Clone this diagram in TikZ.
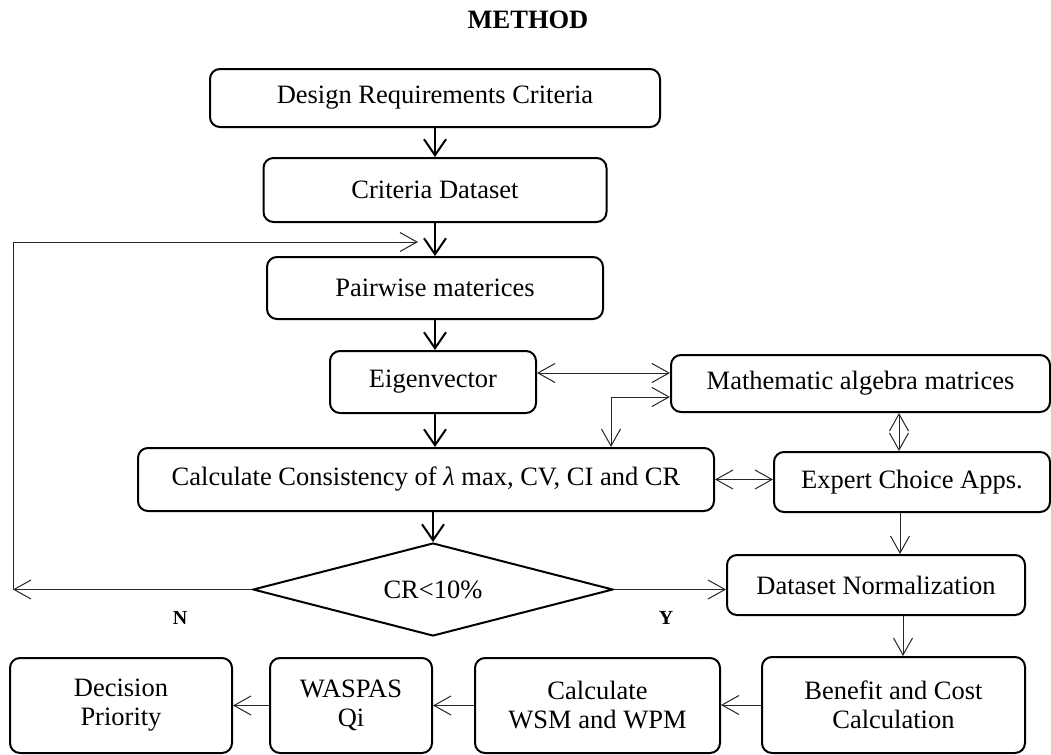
\documentclass[tikz,border=0pt]{standalone}
\usepackage{fontspec}
\setmainfont{Liberation Serif}
\usepackage{tikz}
\usetikzlibrary{shapes.geometric,arrows.meta,positioning}

\begin{document}
\begin{tikzpicture}[x=0.5pt,y=-0.5pt,
    font=\fontsize{13.25}{14.5}\selectfont,
    stepbox/.style={rectangle, rounded corners=5pt, draw, line width=1pt, align=center, inner sep=2pt},
    thkarrow/.style={line width=1pt, -{Straight Barb[length=8pt,width=11pt]}},
    thnarrow/.style={line width=0.5pt, black!85, -{Straight Barb[length=8.5pt,width=9.5pt]}},
    thnboth/.style={line width=0.5pt, black!85, {Straight Barb[length=8.5pt,width=9.5pt]}-{Straight Barb[length=8.5pt,width=9.5pt]}}]
      \useasboundingbox (0,0) rectangle (1051,755);
      \node (title) at (528,20) {\textbf{METHOD}};

      % AHP column
      \node[stepbox, minimum width=225pt, minimum height=29pt] (dr) at (435,98) {Design Requirements Criteria};
      \node[stepbox, minimum width=171.5pt, minimum height=32pt] (cd) at (435,190) {Criteria Dataset};
      \node[stepbox, minimum width=168pt, minimum height=31pt] (pw) at (435,288) {Pairwise materices};
      \node[stepbox, minimum width=103pt, minimum height=31pt] (ev) at (433,382) {Eigenvector};
      \node[stepbox, minimum width=288pt, minimum height=31.5pt] (cc) at (426,479.5) {Calculate Consistency of {\itshape λ} max, CV, CI and CR};
      \node[diamond, aspect=3.9, draw, line width=1pt, inner sep=0pt, minimum width=180pt, minimum height=46.5pt] (cr) at (433,589.5) {CR<10\%};

      % right column
      \node[stepbox, minimum width=189.5pt, minimum height=28.5pt] (ma) at (860.5,383.5) {Mathematic algebra matrices};
      \node[stepbox, minimum width=138pt, minimum height=30pt] (ec) at (912,482) {Expert Choice Apps.};
      \node[stepbox, minimum width=149pt, minimum height=30pt] (dn) at (876,585) {Dataset Normalization};

      % WASPAS row
      \node[stepbox, minimum width=131.5pt, minimum height=48pt] (bc) at (893.5,705) {Benefit and Cost\\Calculation};
      \node[stepbox, minimum width=122.5pt, minimum height=47.5pt] (ws) at (597.5,705.5) {Calculate\\WSM and WPM};
      \node[stepbox, minimum width=81pt, minimum height=47.5pt] (wq) at (351,705.5) {WASPAS\\Qi};
      \node[stepbox, minimum width=111pt, minimum height=47.5pt] (dp) at (121,705.5) {Decision\\Priority};

      \node[font=\fontsize{10}{12}\selectfont\bfseries] (no) at (180,618) {N};
      \node[font=\fontsize{10}{12}\selectfont\bfseries] (yes) at (666,618) {Y};

      \coordinate (lpB) at (13,589.5);
      \coordinate (lpT) at (13,242);
      \coordinate (lpE) at (418,242);

      \draw[thkarrow] (dr.south) -- (cd.north);
      \draw[thkarrow] (cd.south) -- (pw.north);
      \draw[thkarrow] (pw.south) -- (pw.south |- ev.north);
      \draw[thkarrow] ([xshift=1pt]ev.south) -- ([xshift=1pt]ev.south |- cc.north);
      \draw[thkarrow] (cr.north |- cc.south) -- (cr.north);

      \draw[thnarrow] (cr.west) -- (lpB);
      \draw[thnarrow] (lpB) -- (lpT) -- (lpE);
      \draw[thnarrow] (cr.east) -- (cr.east -| dn.west);

      \draw[thnboth] ([yshift=4.5pt]ev.east) -- ([yshift=4.5pt]ev.east -| ma.west);
      \draw[thnboth] ([xshift=92.5pt]cc.north) |- ([yshift=-6.75pt]ma.west);
      \draw[thnboth] ([xshift=19.25pt]ma.south) -- ([xshift=19.25pt]ma.south |- ec.north);
      \draw[thnboth] (cc.east) -- (cc.east -| ec.west);
      \draw[thnarrow] ([xshift=-6pt]ec.south) -- ([xshift=-6pt]ec.south |- dn.north);
      \draw[thnarrow] ([xshift=4.75pt]bc.north |- dn.south) -- ([xshift=4.75pt]bc.north);

      \draw[thnarrow] (bc.west) -- (bc.west -| ws.east);
      \draw[thnarrow] (ws.west) -- (ws.west -| wq.east);
      \draw[thnarrow] (wq.west) -- (wq.west -| dp.east);
    \end{tikzpicture}
\end{document}
